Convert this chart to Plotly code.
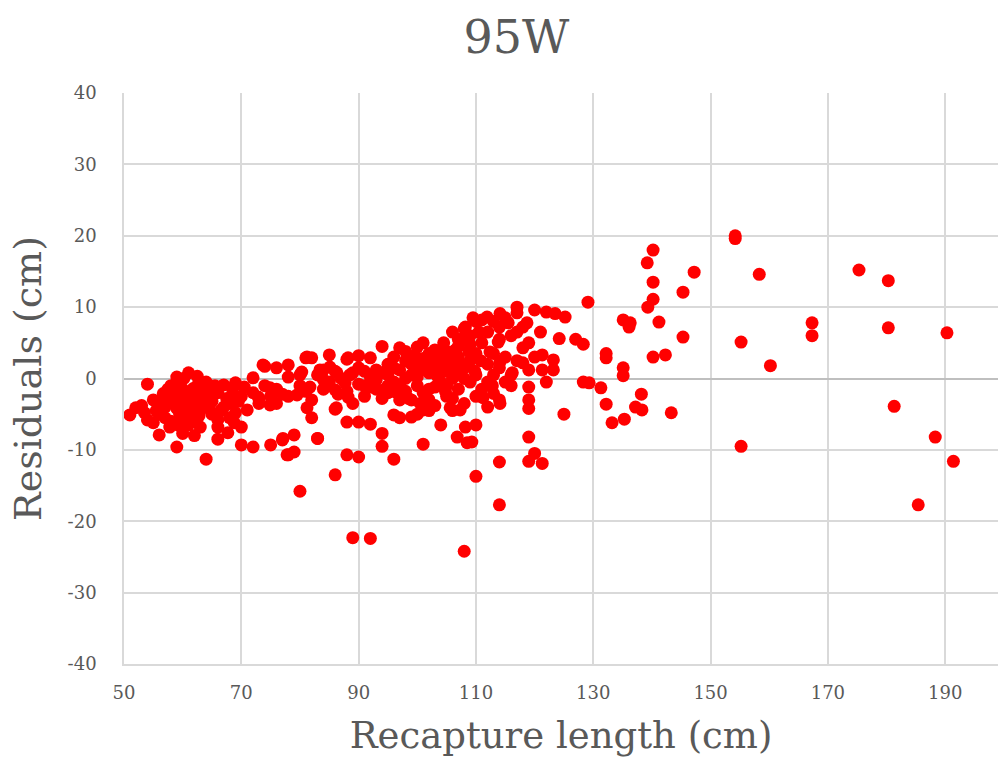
import plotly.graph_objects as go

# Recapture length (cm) and residuals (cm)
pts = [
    # x 51-70 cluster
    (51,-5.1),(52,-4.1),(53,-3.8),(54,-0.8),(54,-5.8),(55,-3.0),(56,-7.9),(56.7,-2.1),(57.8,-6.8),(59,0.2),
    (59,-9.6),(55.5,-4.5),(57,-4.0),(58,-2.5),(58.5,-3.5),(59.5,-5.0),(60,-1.5),(60,-3.0),(60.5,-4.2),(60,-7.7),
    (61,0.8),(61,-2.0),(61.5,-5.5),(62,-8.0),(62,-3.5),(62.5,-1.0),(63,-4.5),(63,-2.5),(64,-0.5),(64,-11.3),
    (64,-3.0),(65,-5.0),(66,-5.8),(66,-8.5),(66,-2.0),(67,-0.9),(67.7,-7.6),(68,-3.5),(68.5,-1.5),(69,-0.6),
    (69,-4.8),(70,-6.8),(70,-9.3),(70,-2.5),(71,-4.4),(72,-9.6),(72,0.1),(73,-2.8),(73.7,1.9),(74.9,-3.7),
    (75,-9.3),(76,1.5),(76,-1.5),(77,-8.6),(77.8,-10.7),(57,-5.5),(58,-6.0),(59,-4.2),(60,-5.8),(61,-6.5),
    (62,-6.0),(63,-6.8),(58,-1.0),(59.5,-2.0),(61.5,-3.0),(63.5,-1.8),(64.5,-4.0),(65,-3.2),(66.5,-4.5),(67.5,-2.8),
    (68,-5.5),(56,-5.0),(57.5,-1.5),(60.2,0.0),(62.5,0.3),(61.2,-4.5),(59.2,-6.5),(53.5,-4.8),(56.2,-3.2),
    (60.8,-2.6),(62.2,-2.2),(63.2,-3.4),(61.8,-1.4),(64.2,-1.8),(65.5,-1.0),(67,-4.0),(69.5,-3.2),(70.5,-1.2),
    (58.8,-0.8),(57.2,-3.0),(55,-6.2),(62.8,-5.2),(66,-6.8),(68.8,-6.2),
    # x 70-90
    (72,-2.0),(73,-3.5),(74,-1.0),(75,-2.5),(76,-3.5),(77,-2.2),(78,1.9),(78,-2.5),(79,-7.9),(78,-10.7),
    (79,-10.3),(80,-15.8),(80,-1.0),(80,0.5),(81,2.9),(81,-1.8),(82,2.9),(82,-5.5),(82,-3.0),(83,-8.4),
    (83,0.5),(84,-1.5),(84,1.2),(85,3.3),(85,-0.5),(86,-4.3),(86,-13.5),(86,1.0),(86.5,-2.2),(87,0.0),
    (88,2.7),(88,-10.7),(88,-6.1),(88,-1.8),(88.5,0.5),(89,-22.3),(89,-3.5),(90,3.2),(90,-11.0),(90,-6.1),
    (90,-0.8),(90,1.5),(91,-2.5),(92,2.9),(92,-6.4),(92,-22.4),(92,0.2),(93,-1.5),(93,1.2),
    (74,1.7),(78,0.2),(74.9,-1.3),(72.9,-2.6),(69.3,-2.6),(79.5,-2.3),(81.2,-4.1),(81.2,3.0),(80.3,0.9),
    (83.4,1.2),(85.1,1.6),(86.3,0.8),(81.7,-1.2),(84,-0.2),(86,-1.6),(87.7,-0.6),(89,0.8),(88.2,-2.6),
    (86.2,-4.1),(77.1,-8.4),(83,-8.4),(88.2,2.9),
    # x 93-112
    (94,4.5),(94,-9.5),(94,-7.7),(94,-2.8),(94,0.8),(95,-1.0),(95,2.0),(96,-11.3),(96,-5.1),(96,-0.5),
    (96,3.0),(97,4.3),(97,-3.0),(97,1.2),(98,-1.8),(98,2.5),(99,-5.4),(99,0.5),(99,-3.0),(100,4.4),
    (100,1.8),(100,-1.0),(101,5.0),(101,-9.2),(101,-4.4),(101,-2.0),(101,2.8),(102,0.8),(102,3.5),(102,-3.0),
    (103,1.5),(103,-1.2),(103,4.0),(104,-6.5),(104,2.3),(104,-0.5),(104.5,5.0),(105,1.0),(105,-2.5),(105,3.8),
    (106,6.5),(106,-4.5),(106,2.0),(106,0.0),(106.8,-8.2),(107,4.5),(107,-1.5),(107,3.0),(108,-24.2),(108,7.0),
    (108,1.5),(108,-3.5),(108,5.5),(108.5,-9.0),(109,2.5),(109,-0.5),(109,6.0),(110,-13.7),(110,8.0),(110,3.5),
    (110,0.5),(110,-2.5),(110,-6.5),(111,5.0),(111,8.2),(111,-1.5),(112,2.0),(112,6.5),(112,-0.5),(112,-4.0),
    (97,-5.5),(100,-5.0),(102,-4.5),(103,-3.8),(98,0.0),(99,2.0),(96,1.5),(95,-2.0),(97,-1.0),(100,0.2),
    (102,-1.5),(104,1.0),(105,-1.0),(103,2.8),(98,3.8),(95,0.5),(93,-0.2),(91,1.0),(91,-1.0),(92,-1.2),
    (105.6,-4.1),(107.3,-4.4),(108.2,-6.8),(109.3,-8.9),(109.5,8.5),(108.2,7.2),(106.5,4.0),(107.5,2.0),
    (106,-2.8),(104.8,-1.8),(109.8,1.0),(108.8,3.8),
    (104,3.2),(105.5,2.8),(107,5.5),(109,4.8),(110.5,6.5),(106.5,1.0),(103.5,0.2),(108,0.0),(110.8,2.5),
    (99.5,3.2),(101.5,1.2),(98.5,-2.8),(100.5,-3.5),(96.5,-2.0),(94.5,-1.5),(102.5,2.0),
    # x 112-128
    (113,8.0),(113,3.5),(113,0.5),(114,-11.7),(114,-17.7),(114,5.5),(114,7.2),(114,-3.0),(114,1.5),(115,8.5),
    (115,3.0),(116,0.5),(116,6.0),(116,-1.0),(117,10.0),(117,9.2),(117,6.5),(117,2.5),(118,7.2),(118.7,7.8),
    (119,5.0),(118,4.3),(120,3.0),(121.3,3.3),(123.2,2.6),(118,2.2),(119,1.2),(121.3,1.2),(123.2,1.2),(119,-1.2),
    (122,-0.5),(119,-3.0),(119,-4.2),(125,-5.0),(119,-8.2),(120,-10.5),(119,-11.6),(121.3,-11.9),(120,9.6),(122,9.3),
    (123.5,9.1),(125.2,8.6),(121,6.5),(124.2,5.6),(127,5.5),(111.9,8.6),(114.1,9.1),(115.5,7.8),(113.8,5.1),
    (112.4,3.7),(114.1,-3.5),(111.2,-2.7),(113,-2.1),(116.2,0.8),(114.1,2.3),(115,-0.5),(112.8,-1.0),
    # x 128-160
    (128.3,4.8),(129.1,10.7),(132.2,3.5),(132.2,2.9),(135.1,8.2),(136.3,7.8),(136.1,7.2),(135.1,1.5),(135.1,0.4),
    (128.3,-0.5),(129.3,-0.6),(131.3,-1.3),(132.2,-3.6),(133.2,-6.2),(135.3,-5.7),(137.2,-4.0),(138.3,-4.4),
    (138.2,-2.2),(139.2,16.2),(139.3,10.0),(140.2,18.0),(140.2,13.5),(140.2,11.1),(140.2,3.0),(141.2,7.9),
    (142.3,3.3),(143.3,-4.8),(145.3,12.1),(145.3,5.8),(147.2,14.9),(154.2,20.0),(154.2,19.6),(155.2,5.1),
    (155.2,-9.5),(158.3,14.6),(160.2,1.8),
    # x 160-195
    (167.3,7.8),(167.3,6.0),(175.3,15.2),(180.3,13.7),(180.3,7.1),(181.3,-3.9),(185.4,-17.7),(188.3,-8.2),
    (190.3,6.4),(191.4,-11.6),
]
recapture_length = [p[0] for p in pts]
residuals = [p[1] for p in pts]

x_ticks = [50, 70, 90, 110, 130, 150, 170, 190]
y_ticks = [-40, -30, -20, -10, 0, 10, 20, 30, 40]

FONT = "DejaVu Serif"
GREY = "#595959"

fig = go.Figure(go.Scatter(
    x=recapture_length, y=residuals, mode="markers",
    marker=dict(color="#ff0000", size=13, line=dict(width=0)),
    showlegend=False,
))

fig.update_layout(
    width=999, height=761,
    margin=dict(l=124, r=1, t=93, b=97),
    paper_bgcolor="white", plot_bgcolor="white",
    font=dict(family=FONT, color=GREY),
    title=dict(text="95W", x=0.517, xanchor="center", y=0.952, yanchor="middle",
               font=dict(family=FONT, size=46, color=GREY)),
    xaxis=dict(
        range=[50, 199], tickvals=x_ticks, ticktext=[str(v) for v in x_ticks],
        showgrid=True, gridcolor="#d9d9d9", gridwidth=1.6,
        showline=True, linecolor="#d9d9d9", linewidth=1.6,
        zeroline=False, ticks="", ticklabelstandoff=12,
        tickfont=dict(family=FONT, size=18, color=GREY),
        title=dict(text="Recapture length (cm)", standoff=20,
                   font=dict(family=FONT, size=37, color=GREY)),
    ),
    yaxis=dict(
        range=[-40, 40], tickvals=y_ticks, ticktext=[str(v) for v in y_ticks],
        showgrid=True, gridcolor="#d9d9d9", gridwidth=1.6,
        showline=True, linecolor="#d9d9d9", linewidth=1.6,
        zeroline=True, zerolinecolor="#bfbfbf", zerolinewidth=1.8,
        ticks="", ticklabelstandoff=22,
        tickfont=dict(family=FONT, size=18, color=GREY),
        title=dict(text="Residuals (cm)", standoff=14,
                   font=dict(family=FONT, size=38, color=GREY)),
    ),
)

fig.write_html("out.html")
